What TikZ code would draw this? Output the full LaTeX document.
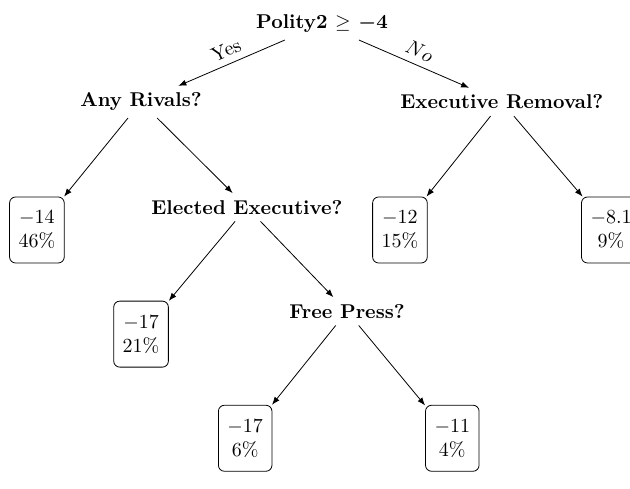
\documentclass[tikz,border=0pt]{standalone}
\usepackage{tikz}
\usetikzlibrary{positioning,arrows.meta}
\tikzset{
  splitNode/.style={
    font=\bfseries,
    align=center
  },
  leafBox/.style={
    rectangle,
    rounded corners=3pt,
    draw=black,
    align=center,
    inner xsep=4.5pt,
    inner ysep=7pt
  },
  arrowLine/.style={
    -{Latex[length=4pt,width=3pt]}
  },
  branchLabel/.style={
    sloped,
    above
  }
}

\begin{document}
\begin{tikzpicture}[on grid]
        \useasboundingbox (-5.659cm,0.422cm) rectangle (5.413cm,-8.171cm);

        \node[splitNode] (root) at (0,0) {Polity2 $\geq$ {\boldmath$-4$}};
        \node[splitNode, below left=1.37cm and 3.18cm of root] (rivals) {Any Rivals?};
        \node[splitNode, below right=1.37cm and 3.16cm of root] (removal) {Executive Removal?};

        \node[leafBox, below left=2.25cm and 1.83cm of rivals] (leafA) {$-14$\\46\%};
        \node[splitNode, below right=1.85cm and 1.86cm of rivals] (elected) {Elected Executive?};
        \node[leafBox, below left=2.25cm and 1.79cm of removal] (leafB) {$-12$\\15\%};
        \node[leafBox, below right=2.25cm and 1.92cm of removal] (leafC) {$-8.1$\\9\%};

        \node[leafBox, below left=2.23cm and 1.86cm of elected] (leafD) {$-17$\\21\%};
        \node[splitNode, below right=1.83cm and 1.76cm of elected] (press) {Free Press?};

        \node[leafBox, below left=2.23cm and 1.79cm of press] (leafE) {$-17$\\6\%};
        \node[leafBox, below right=2.23cm and 1.85cm of press] (leafF) {$-11$\\4\%};

        \draw[arrowLine] (root) -- node[branchLabel]{Yes} (rivals);
        \draw[arrowLine] (root) -- node[branchLabel]{$No$} (removal);
        \draw[arrowLine] (rivals) -- (leafA);
        \draw[arrowLine] (rivals) -- (elected);
        \draw[arrowLine] (removal) -- (leafB);
        \draw[arrowLine] (removal) -- (leafC);
        \draw[arrowLine] (elected) -- (leafD);
        \draw[arrowLine] (elected) -- (press);
        \draw[arrowLine] (press) -- (leafE);
        \draw[arrowLine] (press) -- (leafF);
    \end{tikzpicture}
\end{document}
